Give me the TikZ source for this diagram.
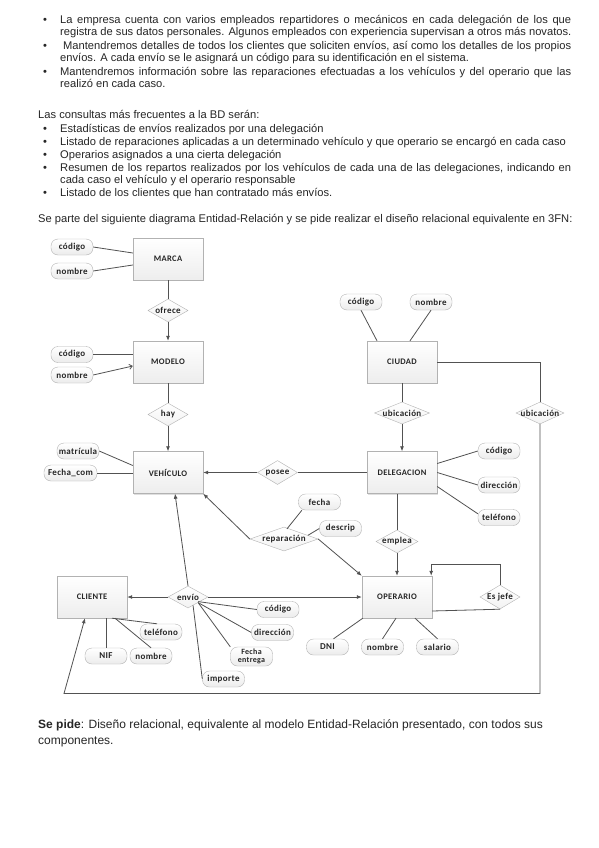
\documentclass[tikz,border=0pt]{standalone}
\usepackage{fontspec}
\setmainfont{Liberation Sans}
\newfontfamily\diagfont[LetterSpace=4]{Carlito}
\usetikzlibrary{shapes.geometric,shadows,calc,arrows.meta}
\newcommand\jline[2]{\makebox[#1][s]{#2}}
\newcommand\dtx[1]{\makebox[0pt]{#1}}
\begin{document}
\begin{tikzpicture}[x=1pt,y=-1pt,
 txt/.style={anchor=base west, inner sep=0pt, font=\fontsize{11.15}{12}\selectfont, text=black!85},
 big/.style={txt, font=\fontsize{12}{16}\selectfont},
 ent/.style={draw=gray!60, rectangle, minimum width=70pt, minimum height=42pt, top color=white, bottom color=gray!14, drop shadow={shadow xshift=1pt,shadow yshift=-1pt,opacity=0.25}, font=\diagfont\bfseries\fontsize{8.5}{9}\selectfont, text=black!85, inner sep=0pt},
 att/.style={draw=gray!60, rounded corners=7pt, minimum width=42pt, minimum height=16pt, top color=white, bottom color=gray!15, font=\diagfont\bfseries\fontsize{9}{9}\selectfont, text=black!85, inner sep=1pt},
 rel/.style={diamond, draw=gray!60, inner sep=0pt, top color=white, bottom color=gray!10, font=\diagfont\bfseries\fontsize{9}{9}\selectfont, text=black!85},
 con/.style={draw=black!68, line width=0.8pt},
 arr/.style={con, -{Latex[length=5pt,width=4pt]}}
]
\fill[white] (0,0) rectangle (599,848);
\useasboundingbox (0,0) rectangle (599,848);

% ---------- text ----------
\node[txt] (b1) at (43,24) {\textbullet};
\node[txt] (t1a) at (60,24) {\jline{511pt}{La empresa cuenta con varios empleados repartidores o mecánicos en cada delegación de los que}};
\node[txt] (t1b) at (60,36) {registra de sus datos personales. Algunos empleados con experiencia supervisan a otros más novatos.};
\node[txt] (b2) at (43,50) {\textbullet};
\node[txt] (t2a) at (63,50) {\jline{508pt}{Mantendremos detalles de todos los clientes que soliciten envíos, así como los detalles de los propios}};
\node[txt] (t2b) at (60,62) {envíos. A cada envío se le asignará un código para su identificación en el sistema.};
\node[txt] (b3) at (43,76) {\textbullet};
\node[txt] (t3a) at (60,76) {\jline{511pt}{Mantendremos información sobre las reparaciones efectuadas a los vehículos y del operario que las}};
\node[txt] (t3b) at (60,88) {realizó en cada caso.};

\node[txt] (c0) at (38,119) {Las consultas más frecuentes a la BD serán:};
\node[txt] (cb1) at (43,132) {\textbullet};
\node[txt] (c1) at (60,132) {Estadísticas de envíos realizados por una delegación};
\node[txt] (cb2) at (43,145) {\textbullet};
\node[txt] (c2) at (60,145) {Listado de reparaciones aplicadas a un determinado vehículo y que operario se encargó en cada caso};
\node[txt] (cb3) at (43,158) {\textbullet};
\node[txt] (c3) at (60,158) {Operarios asignados a una cierta delegación};
\node[txt] (cb4) at (43,171) {\textbullet};
\node[txt] (c4a) at (60,171) {\jline{511pt}{Resumen de los repartos realizados por los vehículos de cada una de las delegaciones, indicando en}};
\node[txt] (c4b) at (60,183) {cada caso el vehículo y el operario responsable};
\node[txt] (cb5) at (43,196) {\textbullet};
\node[txt] (c5) at (60,196) {Listado de los clientes que han contratado más envíos.};

\node[txt] (sp) at (38,222) {Se parte del siguiente diagrama Entidad-Relación y se pide realizar el diseño relacional equivalente en 3FN:};

\node[big] (pa) at (38,728) {\textbf{Se pide}: Diseño relacional, equivalente al modelo Entidad-Relación presentado, con todos sus};
\node[big] (pb) at (38,744) {componentes.};

% ---------- entities ----------
\node[ent] (marca) at (168,259) {MARCA};
\node[ent] (modelo) at (168,362) {MODELO};
\node[ent] (vehiculo) at (168,472.5) {VEHÍCULO};
\node[ent] (ciudad) at (402,362) {CIUDAD};
\node[ent] (delegacion) at (402,472.5) {DELEGACION};
\node[ent] (cliente) at (92,597) {CLIENTE};
\node[ent] (operario) at (397,597) {OPERARIO};

% ---------- attributes ----------
\node[att] (mcod) at (72,247) {código};
\node[att] (mnom) at (72,271) {nombre};
\node[att] (mocod) at (72,354.5) {código};
\node[att] (monom) at (72,375) {nombre};
\node[att] (matr) at (78,451) {matrícula};
\node[att, minimum width=53pt] (fcom) at (70.5,473) {Fecha\_com};
\node[att] (ccod) at (361,302) {código};
\node[att] (cnom) at (431,302) {nombre};
\node[att] (dcod) at (499,451) {código};
\node[att] (ddir) at (499,485) {dirección};
\node[att] (dtel) at (499,517.5) {teléfono};
\node[att] (fecha) at (319.5,502) {fecha};
\node[att] (descrip) at (340.5,528.5) {descrip};
\node[att] (ecod) at (278,609.5) {código};
\node[att] (edir) at (272.5,632.5) {dirección};
\node[att, minimum height=19pt, align=center, font=\diagfont\bfseries\fontsize{8}{8}\selectfont] (efec) at (251.5,656.5) {Fecha\\entrega};
\node[att] (eimp) at (223.5,679) {importe};
\node[att] (ctel) at (161,632) {teléfono};
\node[att] (cnif) at (106,656) {NIF};
\node[att] (cnomb) at (151,656) {nombre};
\node[att] (odni) at (327.5,647) {DNI};
\node[att] (onom) at (382.5,647) {nombre};
\node[att] (osal) at (437.5,647) {salario};

% ---------- relationships ----------
\node[rel, minimum width=40pt, minimum height=23pt] (ofrece) at (168,310.5) {\dtx{ofrece}};
\node[rel, minimum width=40pt, minimum height=23pt] (hay) at (168,414.5) {\dtx{hay}};
\node[rel, minimum width=40pt, minimum height=24pt] (posee) at (277.5,472.5) {\dtx{posee}};
\node[rel, minimum width=55pt, minimum height=22pt] (ubic1) at (402,413) {\dtx{ubicación}};
\node[rel, minimum width=48pt, minimum height=22pt] (ubic2) at (540,413) {\dtx{ubicación}};
\node[rel, minimum width=68pt, minimum height=24pt] (repar) at (284,539) {\dtx{reparación}};
\node[rel, minimum width=42pt, minimum height=23pt] (emplea) at (397,541.5) {\dtx{emplea}};
\node[rel, minimum width=40pt, minimum height=24pt] (esjefe) at (500,597) {\dtx{Es jefe}};
\node[rel, minimum width=40pt, minimum height=22pt] (envio) at (188,597) {\dtx{envío}};

\coordinate (br) at (540,693.5);
\coordinate (bl) at (64,693.5);
\coordinate (loop) at (500,564);

% ---------- connectors ----------
\draw[con] (mcod.east) -- ($(marca.west)+(0,-6)$);
\draw[con] (mnom.east) -- ($(marca.west)+(0,6)$);
\draw[con] (marca) -- (ofrece);
\draw[arr] (ofrece) -- (modelo);
\draw[con] (mocod.east) -- (mocod.east -| modelo.west);
\draw[con, -{Straight Barb[length=3pt,width=5pt]}] (monom.east) -- ($(modelo.west)+(0,4)$);
\draw[con] (modelo) -- (hay);
\draw[arr] (hay) -- (vehiculo);
\draw[con] (matr.east) -- ($(vehiculo.west)+(0,-7)$);
\draw[con] (fcom.east) -- (fcom.east -| vehiculo.west);
\draw[con] (delegacion) -- (posee);
\draw[arr] (posee) -- (vehiculo);

\draw[con] (ccod.south) -- ($(ciudad.north)+(-25,0)$);
\draw[con] (cnom.south) -- ($(ciudad.north)+(8,0)$);
\draw[con] (ciudad) -- (ubic1);
\draw[arr] (ubic1) -- (delegacion);
\draw[con] (ciudad.east) -| (ubic2.north);
\draw[arr] (ubic2.south) -- (br) -- (bl) -- ($(cliente.south)+(-7,0)$);

\draw[con] ($(delegacion.east)+(0,-9)$) -- (dcod.west);
\draw[con] (delegacion.east) -- (ddir.west);
\draw[con] ($(delegacion.east)+(0,14)$) -- (dtel.170);
\draw[con] (emplea.north |- delegacion.south) -- (emplea);
\draw[arr] (emplea) -- (operario);

\draw[con] (fecha.205) -- ($(repar.north)+(3,2)$);
\draw[con] (descrip.west) -- ($(repar.north)!0.7!(repar.east)$);
\draw[arr] (repar.west) -- (vehiculo.south east);
\draw[arr] (repar.east) -- (operario.north west);

\draw[arr] (envio) -- (cliente);
\draw[arr] (envio) -- (operario);
\draw[arr] (envio.north) -- ($(vehiculo.south)+(7,0)$);
\draw[con] ($(envio.south east)+(0,-1)$) -- (ecod.west);
\draw[con] (envio.south east) -- (edir.west);
\draw[con] (envio.south east) -- (efec.north west);
\draw[con] ($(envio.south)!0.5!(envio.south east)$) -- (eimp.west);

\draw[con] (cnif.north |- cliente.south) -- (cnif.north);
\draw[con] ($(cliente.south)+(23,0)$) -- (cnomb.north);
\draw[con] ($(cliente.south)+(20,0)$) -- ($(ctel.north)+(-4,0)$);

\draw[con] ($(operario.south west)+(1,0)$) -- ($(odni.north)+(6,0)$);
\draw[con] ($(operario.south)+(-1,0)$) -- (onom.north);
\draw[con] ($(operario.south)+(18,0)$) -- (osal.north);
\draw[arr] (esjefe.north) -- (loop) -| ($(operario.north east)+(-1,0)$);
\draw[con] (esjefe.south) -- ($(operario.east)+(0,14)$);
\end{tikzpicture}
\end{document}
